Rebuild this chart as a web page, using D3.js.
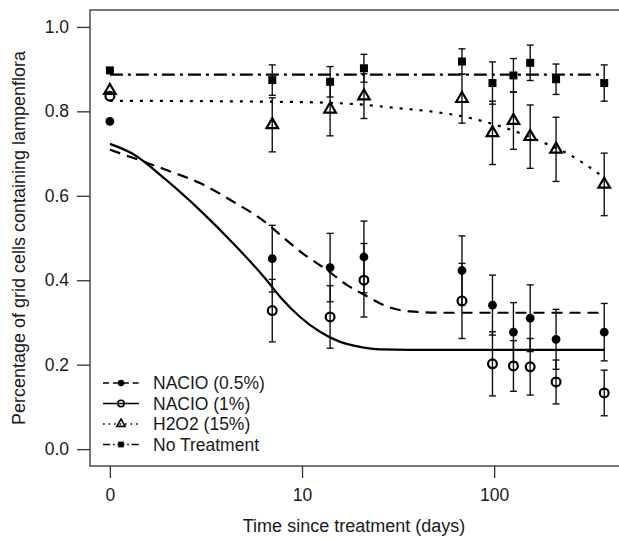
<!DOCTYPE html>
<html>
<head>
<meta charset="utf-8">
<script src="https://cdn.jsdelivr.net/npm/d3@7"></script>
<style>
body { margin: 0; background: #fff; }
text { font-family: "Liberation Sans", Arial, sans-serif; fill: #1a1a1a; }
</style>
</head>
<body>
<script>
//sampling days (day 0 is plotted at position 1 on the log axis)
var days = [0, 7, 14, 21, 68, 98, 126, 154, 210, 374];

//observed means and standard errors
var naclo05 = [0.776, 0.451, 0.430, 0.455, 0.423, 0.341, 0.277, 0.310, 0.260, 0.277];
var naclo05Se = [0, 0.079, 0.081, 0.085, 0.082, 0.071, 0.070, 0.079, 0.071, 0.068];
var naclo1 = [0.836, 0.328, 0.313, 0.400, 0.351, 0.202, 0.197, 0.195, 0.159, 0.133];
var naclo1Se = [0, 0.074, 0.074, 0.087, 0.089, 0.076, 0.060, 0.067, 0.052, 0.054];
var h2o2 = [0.849, 0.768, 0.805, 0.836, 0.830, 0.749, 0.778, 0.740, 0.710, 0.627];
var h2o2Se = [0, 0.064, 0.063, 0.053, 0.058, 0.075, 0.068, 0.075, 0.076, 0.074];
var noTreat = [0.897, 0.874, 0.870, 0.902, 0.918, 0.867, 0.885, 0.915, 0.876, 0.867];
var noTreatSe = [0, 0.036, 0.036, 0.033, 0.030, 0.050, 0.040, 0.042, 0.036, 0.043];

//fitted curves
var fitNaclo05Days = [0, 1.97, 2.94, 4.39, 6.55, 7.68, 10.2, 13.4, 17.1, 21, 27.6, 36.5, 52, 374];
var fitNaclo05 = [0.709, 0.661, 0.630, 0.586, 0.535, 0.508, 0.462, 0.425, 0.389, 0.366, 0.338, 0.326, 0.323, 0.323];
var fitNaclo1Days = [0, 1.32, 1.97, 2.94, 4.39, 6.55, 7.68, 9.77, 12.4, 15.8, 20.0, 25.5, 36.5, 374];
var fitNaclo1 = [0.723, 0.699, 0.637, 0.566, 0.487, 0.400, 0.361, 0.313, 0.278, 0.254, 0.242, 0.236, 0.235, 0.235];
var fitH2o2Days = [0, 9.77, 21.7, 32.4, 48.3, 72.1, 91.6, 121, 174, 239, 356, 374];
var fitH2o2 = [0.825, 0.822, 0.815, 0.807, 0.799, 0.786, 0.774, 0.757, 0.729, 0.701, 0.650, 0.643];
var fitNoTreatDays = [0, 374];
var fitNoTreat = [0.887, 0.887];

var legendLabels = ["NACIO (0.5%)", "NACIO (1%)", "H2O2 (15%)", "No Treatment"];
var xTicks = [0, 10, 100];
var yTicks = [0, 0.2, 0.4, 0.6, 0.8, 1.0];

window.onload = drawChart();

function drawChart(){
    var width = 619, height = 540;
    var left = 90, right = 624, top = 10, bottom = 466;

    var svg = d3.select("body")
        .append("svg")
        .attr("width", width)
        .attr("height", height);

    var x = d3.scaleLog()
        .domain([0.788, 474])
        .range([left, right]);
    //day 0 sits where day 1 would be
    var xp = function(d){ return x(Math.max(d, 1)); };

    var y = d3.scaleLinear()
        .domain([-0.04, 1.04])
        .range([bottom, top]);

    var series = [
        {vals: naclo05, se: naclo05Se, fd: fitNaclo05Days, fv: fitNaclo05, dash: "11,7", sym: "dot"},
        {vals: naclo1, se: naclo1Se, fd: fitNaclo1Days, fv: fitNaclo1, dash: null, sym: "ring"},
        {vals: h2o2, se: h2o2Se, fd: fitH2o2Days, fv: fitH2o2, dash: "3,7", sym: "tri"},
        {vals: noTreat, se: noTreatSe, fd: fitNoTreatDays, fv: fitNoTreat, dash: "13,5,3,5", sym: "square"}
    ];

    //plot box
    svg.append("rect")
        .attr("x", left)
        .attr("y", top)
        .attr("width", right - left)
        .attr("height", bottom - top)
        .attr("fill", "none")
        .attr("stroke", "#333")
        .attr("stroke-width", 1.3);

    //axes
    var xAxis = svg.append("g")
        .attr("transform", "translate(0," + bottom + ")")
        .call(d3.axisBottom(x)
            .tickValues(xTicks.map(function(d){ return Math.max(d, 1); }))
            .tickFormat(function(d, i){ return xTicks[i]; })
            .tickSize(12)
            .tickSizeOuter(0)
            .tickPadding(11));
    xAxis.select(".domain").remove();

    var yAxis = svg.append("g")
        .attr("transform", "translate(" + left + ",0)")
        .call(d3.axisLeft(y)
            .tickValues(yTicks)
            .tickFormat(d3.format(".1f"))
            .tickSize(13)
            .tickSizeOuter(0)
            .tickPadding(8));
    yAxis.select(".domain").remove();

    svg.selectAll(".tick line").attr("stroke", "#333").attr("stroke-width", 1.3);
    svg.selectAll(".tick text")
        .style("font-size", "17.5px")
        .style("font-family", "'Liberation Sans', Arial, sans-serif")
        .attr("fill", "#1a1a1a");

    //axis titles
    svg.append("text")
        .attr("x", (left + right) / 2 - 3)
        .attr("y", 532)
        .attr("text-anchor", "middle")
        .style("font-size", "18px")
        .text("Time since treatment (days)");

    svg.append("text")
        .attr("transform", "translate(25," + ((top + bottom) / 2) + ") rotate(-90)")
        .attr("text-anchor", "middle")
        .style("font-size", "18px")
        .text("Percentage of grid cells containing lampenflora");

    //fitted curves
    var line = d3.line()
        .x(function(d){ return xp(d[0]); })
        .y(function(d){ return y(d[1]); })
        .curve(d3.curveMonotoneX);

    series.forEach(function(s){
        svg.append("path")
            .datum(s.fd.map(function(d, i){ return [d, s.fv[i]]; }))
            .attr("d", line)
            .attr("fill", "none")
            .attr("stroke", "#000")
            .attr("stroke-width", 2.2)
            .attr("stroke-dasharray", s.dash);
    });

    //error bars
    series.forEach(function(s){
        var bars = svg.append("g")
            .selectAll("g")
            .data(days.map(function(d, i){ return {d: d, v: s.vals[i], se: s.se[i]}; })
                .filter(function(p){ return p.se > 0; }))
            .enter()
            .append("g")
            .attr("stroke", "#111")
            .attr("stroke-width", 1.4);
        bars.append("line")
            .attr("x1", function(p){ return xp(p.d); })
            .attr("x2", function(p){ return xp(p.d); })
            .attr("y1", function(p){ return y(p.v - p.se); })
            .attr("y2", function(p){ return y(p.v + p.se); });
        [-1, 1].forEach(function(k){
            bars.append("line")
                .attr("x1", function(p){ return xp(p.d) - 3.5; })
                .attr("x2", function(p){ return xp(p.d) + 3.5; })
                .attr("y1", function(p){ return y(p.v + k * p.se); })
                .attr("y2", function(p){ return y(p.v + k * p.se); });
        });
    });

    //points
    series.forEach(function(s){
        var g = svg.append("g");
        days.forEach(function(d, i){
            drawSymbol(g, s.sym, xp(d), y(s.vals[i]), 1);
        });
    });

    //legend
    var legendY = [383, 403.5, 424, 444.5];
    series.forEach(function(s, i){
        svg.append("line")
            .attr("x1", 103)
            .attr("x2", 139)
            .attr("y1", legendY[i])
            .attr("y2", legendY[i])
            .attr("stroke", "#000")
            .attr("stroke-width", 1.3)
            .attr("stroke-dasharray", s.dash ? s.dash.split(",").map(function(v){ return v * 0.55; }).join(",") : null);
        drawSymbol(svg, s.sym, 121, legendY[i], 0.72);
        svg.append("text")
            .attr("x", 153)
            .attr("y", legendY[i] + 6)
            .style("font-size", "17.5px")
            .text(legendLabels[i]);
    });
}

function drawSymbol(g, sym, cx, cy, k){
    if (sym == "dot"){
        g.append("circle").attr("cx", cx).attr("cy", cy).attr("r", 4.4 * k).attr("fill", "#000");
    } else if (sym == "ring"){
        g.append("circle").attr("cx", cx).attr("cy", cy).attr("r", 4.4 * k)
            .attr("fill", "none").attr("stroke", "#000").attr("stroke-width", 2.2 * k);
    } else if (sym == "tri"){
        g.append("path")
            .attr("d", d3.symbol().type(d3.symbolTriangle).size(58 * k * k)())
            .attr("transform", "translate(" + cx + "," + cy + ")")
            .attr("fill", "none").attr("stroke", "#000").attr("stroke-width", 2.2 * k);
    } else {
        g.append("rect").attr("x", cx - 4 * k).attr("y", cy - 4 * k)
            .attr("width", 8 * k).attr("height", 8 * k).attr("fill", "#000");
    }
}
</script>
</body>
</html>
